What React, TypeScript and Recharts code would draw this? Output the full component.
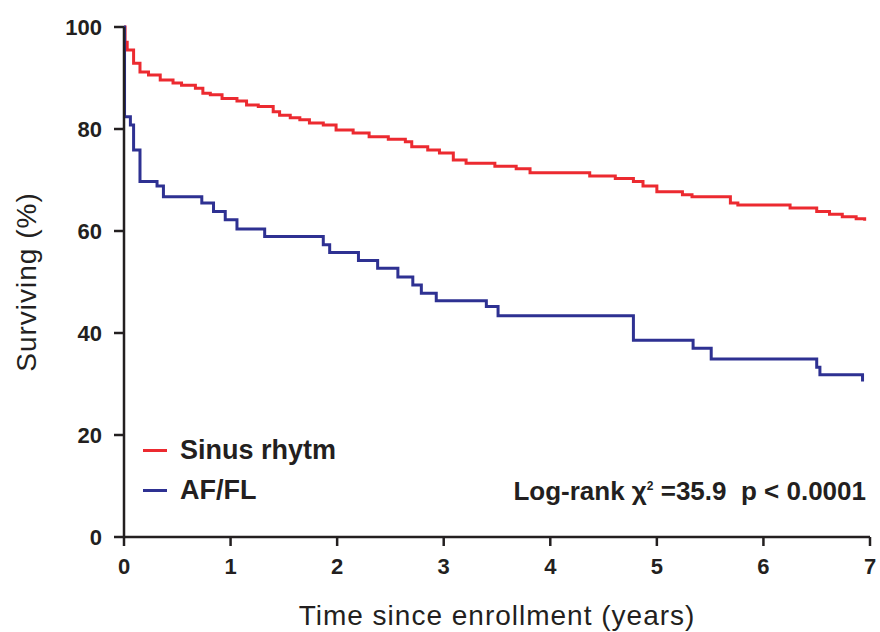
import { LineChart, Line, XAxis, YAxis } from 'recharts';

// Kaplan-Meier style survival curves.
const xTicks = [0, 1, 2, 3, 4, 5, 6, 7];
const yTicks = [0, 20, 40, 60, 80, 100];

const sinusTimes = [
  0, 0.01, 0.03, 0.09, 0.15, 0.23, 0.34, 0.46, 0.54, 0.67, 0.74, 0.81, 0.92,
  1.06, 1.15, 1.26, 1.4, 1.46, 1.56, 1.65, 1.74, 1.87, 1.99, 2.15, 2.3, 2.48,
  2.64, 2.7, 2.85, 2.96, 3.09, 3.21, 3.48, 3.68, 3.81, 4.37, 4.61, 4.78, 4.87,
  5.0, 5.24, 5.33, 5.69, 5.76, 6.25, 6.5, 6.62, 6.74, 6.87, 6.95,
];
const sinusSurv = [
  100, 97, 95.5, 92.9, 91.2, 90.6, 89.6, 89, 88.6, 88, 87, 86.7, 86,
  85.5, 84.7, 84.4, 83.4, 82.7, 82.2, 81.8, 81.2, 80.8, 79.8, 79.2, 78.5, 78,
  77.5, 76.5, 75.9, 75.3, 73.9, 73.3, 72.7, 72.2, 71.4, 70.8, 70.3, 69.7, 68.8,
  67.7, 67.1, 66.7, 65.5, 65.1, 64.5, 63.8, 63.3, 62.8, 62.4, 62,
];

const afTimes = [
  0, 0.005, 0.06, 0.09, 0.15, 0.31, 0.37, 0.73, 0.84, 0.95, 1.06, 1.32, 1.87,
  1.93, 2.2, 2.38, 2.57, 2.71, 2.79, 2.93, 3.4, 3.51, 4.78, 5.34, 5.51, 6.5,
  6.53, 6.93,
];
const afSurv = [
  100, 82.4, 80.8, 75.9, 69.7, 68.8, 66.7, 65.5, 63.8, 62.2, 60.4, 58.9, 57.3,
  55.8, 54.2, 52.7, 51, 49.4, 47.8, 46.3, 45.2, 43.4, 38.6, 37, 34.9, 33.3,
  31.8, 30.5,
];

const RED = '#ec2a30';
const BLUE = '#2e3192';
const INK = '#231f20';
const font = '"Liberation Sans", Arial, Helvetica, sans-serif';

const sinusData = sinusTimes.map((t, i) => ({ t, v: sinusSurv[i] }));
const afData = afTimes.map((t, i) => ({ t, v: afSurv[i] }));

const legendItems = [
  { label: 'Sinus rhytm', color: RED },
  { label: 'AF/FL', color: BLUE },
];

export default function App() {
  const tickStyle = {
    fontFamily: font,
    fontWeight: 'bold' as const,
    fontSize: 22,
    fill: INK,
  };
  return (
    <div
      style={{
        position: 'absolute',
        left: 0,
        top: 0,
        width: 880,
        height: 632,
        background: '#fff',
      }}
    >
      <LineChart
        width={880}
        height={632}
        margin={{ top: 27, right: 10, bottom: 45, left: 64 }}
      >
        <XAxis
          dataKey="t"
          type="number"
          domain={[0, 7]}
          ticks={xTicks}
          allowDuplicatedCategory={false}
          stroke={INK}
          strokeWidth={2.5}
          tickSize={9}
          tick={tickStyle}
          tickMargin={12}
          height={50}
          label={{
            value: 'Time since enrollment (years)',
            position: 'insideBottom',
            offset: -38,
            style: { fontFamily: font, fontSize: 28, letterSpacing: 1, fill: INK },
          }}
        />
        <YAxis
          type="number"
          domain={[0, 100]}
          ticks={yTicks}
          stroke={INK}
          strokeWidth={2.5}
          tickSize={10}
          tick={tickStyle}
          tickMargin={12}
          width={60}
          label={{
            value: 'Surviving (%)',
            angle: -90,
            position: 'insideLeft',
            offset: -38,
            style: {
              fontFamily: font,
              fontSize: 28,
              letterSpacing: 1,
              fill: INK,
              textAnchor: 'middle',
            },
          }}
        />
        <Line
          data={sinusData}
          dataKey="v"
          type="stepAfter"
          stroke={RED}
          strokeWidth={3}
          dot={false}
          isAnimationActive={false}
        />
        <Line
          data={afData}
          dataKey="v"
          type="stepAfter"
          stroke={BLUE}
          strokeWidth={3}
          dot={false}
          isAnimationActive={false}
        />
      </LineChart>
      <div style={{ position: 'absolute', left: 143, top: 430 }}>
        {legendItems.map((it) => (
          <div
            key={it.label}
            style={{ display: 'flex', alignItems: 'center', height: 40 }}
          >
            <span
              style={{
                display: 'inline-block',
                width: 24,
                height: 3,
                background: it.color,
                marginRight: 13,
              }}
            />
            <span
              style={{
                fontFamily: font,
                fontWeight: 'bold',
                fontSize: 27,
                color: INK,
              }}
            >
              {it.label}
            </span>
          </div>
        ))}
      </div>
      <div
        style={{
          position: 'absolute',
          right: 14,
          top: 476,
          fontFamily: font,
          fontWeight: 'bold',
          fontSize: 26,
          color: INK,
          whiteSpace: 'nowrap',
        }}
      >
        Log-rank χ<sup style={{ fontSize: 12 }}>2</sup> =35.9&nbsp; p &lt; 0.0001
      </div>
    </div>
  );
}
